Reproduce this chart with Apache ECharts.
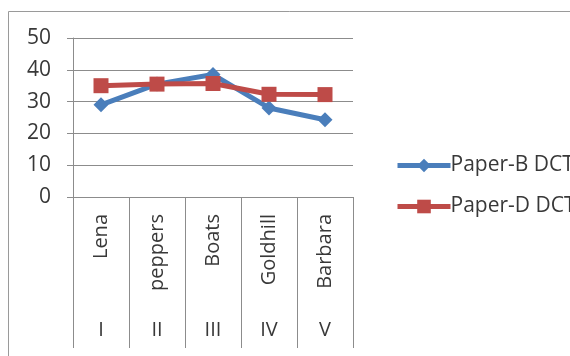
<!DOCTYPE html>
<html>
<head>
<meta charset="utf-8">
<script src="https://cdn.jsdelivr.net/npm/echarts@6/dist/echarts.min.js"></script>
<style>
  html, body { margin: 0; padding: 0; background: #fff; }
  #main { width: 570px; height: 356px; }
</style>
</head>
<body>
<div id="main"></div>
<script>
// data
var images = ['Lena', 'peppers', 'Boats', 'Goldhill', 'Barbara'];
var romans = ['I', 'II', 'III', 'IV', 'V'];
var paperB = [29, 35.5, 38.5, 28, 24.3];
var paperD = [35, 35.5, 35.7, 32.3, 32.2];
var yTicks = [0, 10, 20, 30, 40, 50];

var chart = echarts.init(document.getElementById('main'));
var fontFam = '"Open Sans", "Noto Sans", sans-serif';
var txtColor = '#383838';
var gridColor = '#8c8c8c';

var option = {
    backgroundColor: '#fff',
    animation: false,
    graphic: [{
        type: 'rect',
        shape: { x: 8.5, y: 11.5, width: 700, height: 500 },
        style: { fill: 'none', stroke: '#9a9a9a', lineWidth: 1 },
        silent: true
    }],
    grid: { left: 73, right: 217, top: 38, bottom: 159 },
    legend: {
        orient: 'vertical',
        left: 390,
        top: 150,
        itemWidth: 53,
        itemHeight: 17,
        itemGap: 20,
        lineStyle: { width: 5 },
        textStyle: { fontFamily: fontFam, fontSize: 21, color: txtColor, padding: [0, 0, 0, -5] },
        data: ['Paper-B DCT', 'Paper-D DCT']
    },
    xAxis: [{
        type: 'category',
        data: images,
        boundaryGap: true,
        axisLine: { lineStyle: { color: gridColor } },
        axisTick: { show: true, interval: 0, length: 151, lineStyle: { color: gridColor } },
        axisLabel: {
            interval: 0, rotate: 90, margin: 17,
            fontFamily: fontFam, fontSize: 20, color: txtColor
        }
    }, {
        type: 'category',
        data: romans,
        position: 'bottom',
        boundaryGap: true,
        axisLine: { show: false },
        axisTick: { show: false },
        axisLabel: {
            interval: 0, margin: 123,
            fontFamily: fontFam, fontSize: 20, color: txtColor
        }
    }],
    yAxis: {
        type: 'value',
        min: yTicks[0],
        max: yTicks[yTicks.length - 1],
        interval: 10,
        axisLine: { show: true, lineStyle: { color: gridColor } },
        axisTick: { show: true, length: 6, lineStyle: { color: gridColor } },
        splitLine: { lineStyle: { color: gridColor } },
        axisLabel: { margin: 22, fontFamily: fontFam, fontSize: 21, color: txtColor }
    },
    series: [{
        name: 'Paper-B DCT',
        type: 'line',
        data: paperB,
        symbol: 'diamond',
        symbolSize: 15,
        lineStyle: { width: 5, color: '#4a7ebb' },
        itemStyle: { color: '#4a7ebb' }
    }, {
        name: 'Paper-D DCT',
        type: 'line',
        data: paperD,
        symbol: 'rect',
        symbolSize: 15,
        lineStyle: { width: 5, color: '#be4b48' },
        itemStyle: { color: '#be4b48' }
    }]
};

chart.setOption(option);
</script>
</body>
</html>
